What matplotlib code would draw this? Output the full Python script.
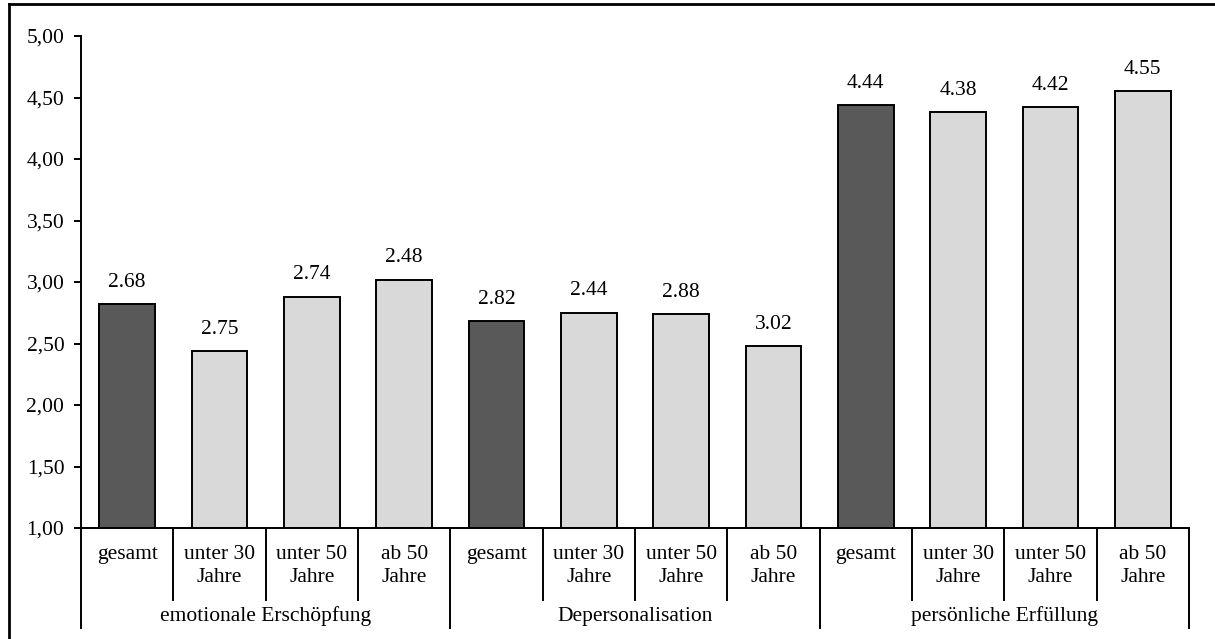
import matplotlib.pyplot as plt
from matplotlib.lines import Line2D
import numpy as np

plt.rcParams["font.family"] = ["Liberation Serif", "DejaVu Serif"]

groups = ["emotionale Erschöpfung", "Depersonalisation", "persönliche Erfüllung"]
subgroups = ["gesamt", "unter 30\nJahre", "unter 50\nJahre", "ab 50\nJahre"]

# mean scores per dimension: gesamt, <30, <50, >=50
bar_values = [
    [2.82, 2.44, 2.88, 3.02],
    [2.68, 2.75, 2.74, 2.48],
    [4.44, 4.38, 4.42, 4.55],
]
value_labels = [
    ["2.68", "2.75", "2.74", "2.48"],
    ["2.82", "2.44", "2.88", "3.02"],
    ["4.44", "4.38", "4.42", "4.55"],
]
y_ticks = [1.0, 1.5, 2.0, 2.5, 3.0, 3.5, 4.0, 4.5, 5.0]

FS = 15.5
W, H = 1215, 639

n_sub = len(subgroups)
heights = np.array(bar_values).ravel()
labels = [s for row in value_labels for s in row]
x = np.arange(len(heights))
colors = ["#595959" if i % n_sub == 0 else "#d9d9d9" for i in x]

fig = plt.figure(figsize=(W / 100, H / 100), dpi=100)
ax = fig.add_axes([81 / W, 1 - 528 / H, 1108 / W, 492 / H])

ax.bar(x, heights - 1.0, bottom=1.0, width=0.6, color=colors,
       edgecolor="black", linewidth=1.4, zorder=2)
for xi, h, s in zip(x, heights, labels):
    ax.text(xi, h + 0.1, s, ha="center", va="bottom", fontsize=FS)

ax.set_xlim(-0.5, len(heights) - 0.5)
ax.set_ylim(1.0, 5.0)
ax.set_yticks(y_ticks)
ax.set_yticklabels([f"{v:.2f}".replace(".", ",") for v in y_ticks], fontsize=FS)
ax.tick_params(axis="y", length=5, width=1.4, pad=7)
ax.set_xticks([])
for side in ["top", "right"]:
    ax.spines[side].set_visible(False)
ax.spines["left"].set_linewidth(1.4)
ax.spines["bottom"].set_linewidth(1.4)

# category table under the axis
trans = ax.get_xaxis_transform()
short_drop = -(600 - 528) / 492
long_drop = -(628 - 528) / 492
for b in np.arange(len(heights) + 1) - 0.5:
    is_group_edge = int(b + 0.5) % n_sub == 0
    y_end = long_drop if is_group_edge else short_drop
    ax.add_line(Line2D([b, b], [0, y_end], transform=trans, color="black",
                       linewidth=1.4, clip_on=False))
for xi in x:
    ax.text(xi, -(545 - 528) / 492, subgroups[xi % n_sub], transform=trans,
            ha="center", va="top", fontsize=FS, linespacing=1.3)
for gi, g in enumerate(groups):
    ax.text(gi * n_sub + (n_sub - 1) / 2, -(616 - 528) / 492, g, transform=trans,
            ha="center", va="center", fontsize=FS)

# outer frame: left and top edges
fx, fy = 8.5 / W, 1 - 4 / H
fig.add_artist(Line2D([fx, fx], [0, fy], transform=fig.transFigure,
                      color="black", linewidth=2, solid_capstyle="projecting"))
fig.add_artist(Line2D([fx, 1], [fy, fy], transform=fig.transFigure,
                      color="black", linewidth=2, solid_capstyle="projecting"))

fig.savefig("out.png", dpi=100)
